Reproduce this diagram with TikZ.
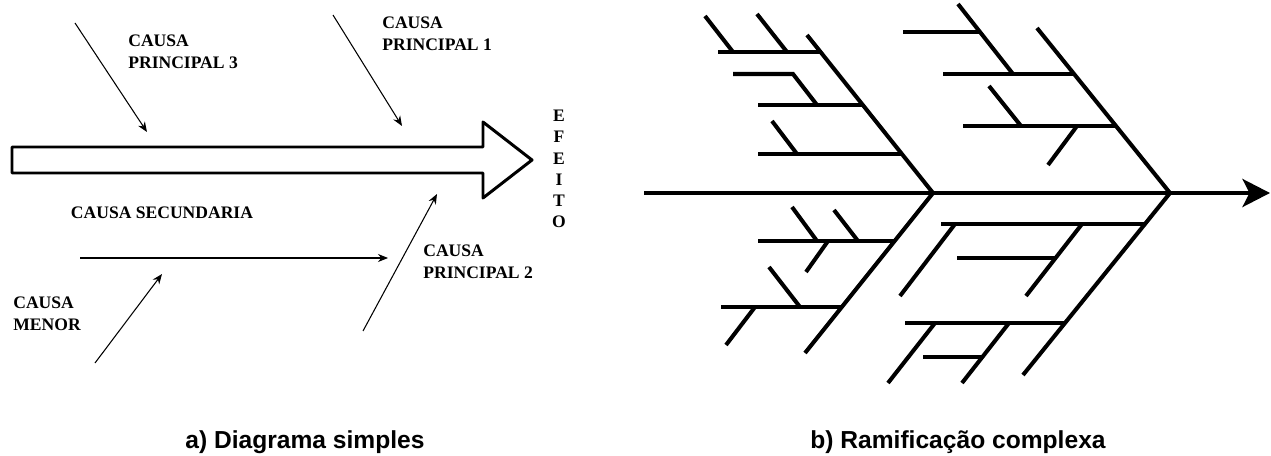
\documentclass[tikz,border=0pt]{standalone}
\usepackage{fontspec}
\setmainfont{Liberation Serif}
\newfontfamily\arialfont{Liberation Sans}
\usetikzlibrary{arrows.meta}

\begin{document}
\begin{tikzpicture}[x=0.02cm,y=-0.02cm]

	\tikzstyle{causetext}=[font=\bfseries\fontsize{10}{12}\selectfont,
		inner sep=0pt,align=left,anchor=north west]
	\tikzstyle{cause}=[line width=0.6pt,
		-{Stealth[length=0.2cm,width=0.16cm]}]
	\tikzstyle{bone}=[line width=2.3pt]
	\tikzstyle{subtitle}=[font=\arialfont\bfseries\fontsize{14}{16}\selectfont,
		inner sep=0pt,anchor=base west]

	\useasboundingbox (0,0) rectangle (1271,456);

	% a) simple diagram: hollow effect arrow
	\draw[line width=1.7pt,line join=round]
		(12,147) -- (483,147) -- (483,122) -- (532,160)
		-- (483,198) -- (483,173) -- (12,173) -- cycle;

	\coordinate (p3from) at (75,23);
	\coordinate (p3to)   at (147,132);
	\coordinate (p1from) at (333,15);
	\coordinate (p1to)   at (402,126);
	\coordinate (p2from) at (363,331);
	\coordinate (p2to)   at (437,194);
	\coordinate (secfrom) at (80,258);
	\coordinate (secto)   at (388,258);
	\coordinate (menfrom) at (95,363);
	\coordinate (mento)   at (162,274);

	\draw[cause] (p3from) -- (p3to);
	\draw[cause] (p1from) -- (p1to);
	\draw[cause] (p2from) -- (p2to);
	\draw[cause] (secfrom) -- (secto);
	\draw[cause] (menfrom) -- (mento);

	\node[causetext] (princ3) at (128,35) {CAUSA\\PRINCIPAL 3};
	\node[causetext] (princ1) at (382,17) {CAUSA\\PRINCIPAL 1};
	\node[causetext] (princ2) at (423,245) {CAUSA\\PRINCIPAL 2};
	\node[causetext] (menor)  at (13,297)  {CAUSA\\MENOR};
	\node[causetext,anchor=north] (secund) at (162,207) {CAUSA SECUNDARIA};
	\node[causetext,align=center,anchor=north] (efeito) at (559,110)
		{E\\F\\E\\I\\T\\O};

	% b) complex branching
	\coordinate (jointL) at (933,193);
	\coordinate (jointR) at (1170,193);
	\coordinate (spinefrom) at (644,193);
	\coordinate (spineto)   at (1270,193);

	\draw[bone,-{Stealth[length=0.55cm,width=0.56cm,inset=0.14cm]}]
		(spinefrom) -- (spineto);
	\draw[bone] (807,35) -- (jointL) -- (805,353);
	\draw[bone] (1037,28) -- (jointR) -- (1023,375);

	% upper left
	\draw[bone] (718,52) -- (821,52);
	\draw[bone] (705,16) -- (733,52);
	\draw[bone] (757,14) -- (787,52);
	\draw[bone] (733,74) -- (793,74) -- (817,105);
	\draw[bone] (758,105) -- (863,105);
	\draw[bone] (772,121) -- (797,154);
	\draw[bone] (758,154) -- (902,154);

	% lower left
	\draw[bone] (758,241) -- (895,241);
	\draw[bone] (792,207) -- (817,241);
	\draw[bone] (834,210) -- (858,241);
	\draw[bone] (828,241) -- (806,272);
	\draw[bone] (721,307) -- (842,307);
	\draw[bone] (769,267) -- (800,307);
	\draw[bone] (755,307) -- (726,345);

	% upper right
	\draw[bone] (903,32) -- (981,32);
	\draw[bone] (958,4) -- (1013,74);
	\draw[bone] (943,74) -- (1074,74);
	\draw[bone] (963,126) -- (1116,126);
	\draw[bone] (989,86) -- (1021,126);
	\draw[bone] (1077,126) -- (1048,165);

	% lower right
	\draw[bone] (941,224) -- (1145,224);
	\draw[bone] (955,224) -- (900,296);
	\draw[bone] (1082,224) -- (1026,296);
	\draw[bone] (957,258) -- (1056,258);
	\draw[bone] (905,323) -- (1065,323);
	\draw[bone] (935,323) -- (888,383);
	\draw[bone] (1009,323) -- (962,383);
	\draw[bone] (923,357) -- (982,357);

	\node[subtitle] (capa) at (185,448) {a) Diagrama simples};
	\node[subtitle] (capb) at (810,448) {b) Ramificação complexa};

\end{tikzpicture}
\end{document}
